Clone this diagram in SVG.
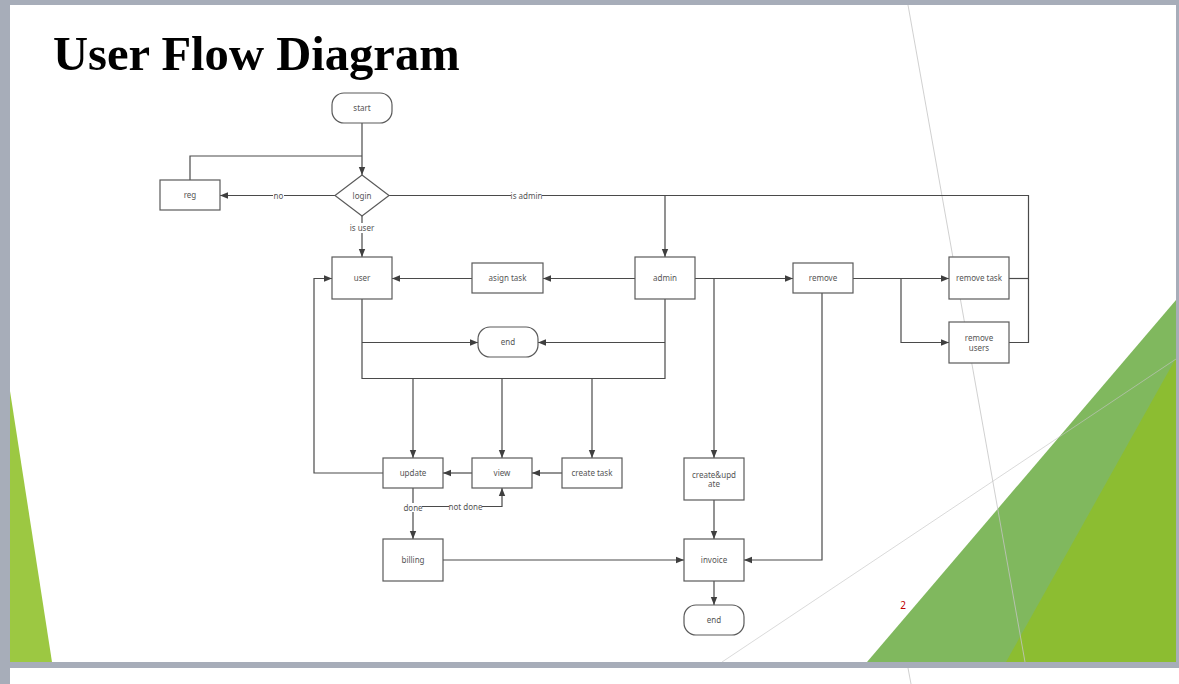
<svg xmlns="http://www.w3.org/2000/svg" width="1179" height="684" viewBox="0 0 1179 684">
<style>
.bx{fill:#fff;stroke:#5a5a5a;stroke-width:1.2}
.t{font-family:"Noto Sans","Open Sans",sans-serif;font-size:8px;fill:#555;text-anchor:middle}
.c{fill:none;stroke:#4a4a4a;stroke-width:1.2}
.ca{fill:none;stroke:#4a4a4a;stroke-width:1.2;marker-end:url(#ah)}
.lb{fill:#fff}
.thin{stroke:#c4c4c4;stroke-width:0.8;fill:none}
</style>
<defs>
<marker id="ah" markerUnits="userSpaceOnUse" markerWidth="9" markerHeight="8" refX="8" refY="4" orient="auto">
<path d="M0,0.8 L8,4 L0,7.2 Z" fill="#3f3f3f"/>
</marker>
</defs>
<rect x="0" y="0" width="1179" height="684" fill="#a7adb9"/>
<rect x="10" y="5" width="1166" height="657" fill="#fff"/>
<rect x="10" y="668" width="1169" height="16" fill="#fff"/>
<polygon points="10,391 10,662 52,662" fill="#9cc842"/>
<polygon points="867,662 1176,300 1176,662" fill="#80b85e"/>
<polygon points="1006,662 1176,358 1176,662" fill="#8cbd31"/>
<line class="thin" x1="908" y1="5" x2="1025" y2="662"/>
<line class="thin" x1="722" y1="662" x2="1176" y2="359" stroke-opacity="0.8"/>
<line class="thin" x1="908" y1="668" x2="911" y2="684"/>
<text x="53" y="70" font-family="'Liberation Serif',serif" font-weight="bold" font-size="48.6" fill="#000">User Flow Diagram</text>
<text x="903" y="609" font-family="'Noto Sans',sans-serif" font-size="10" fill="#c00000" text-anchor="middle">2</text>

<g id="connectors">
<path class="ca" d="M362 123 V175"/>
<path class="c" d="M190 180 V156 H362"/>
<path class="ca" d="M335 195.5 H220"/>
<path class="ca" d="M362 216 V257"/>
<path class="ca" d="M389 195.5 H665 V257"/>
<path class="c" d="M1009 342.5 H1028.5 V195.5 H665" stroke-width="1.6"/>
<path class="c" d="M1009 278.5 H1028.5"/>
<path class="ca" d="M635 278.5 H543"/>
<path class="ca" d="M472 278.5 H392"/>
<path class="c" d="M362 299 V378.5 H665 V299"/>
<path class="ca" d="M362 342.5 H478"/>
<path class="ca" d="M665 342.5 H538"/>
<path class="ca" d="M413 378.5 V458"/>
<path class="ca" d="M502 378.5 V458"/>
<path class="ca" d="M592 378.5 V458"/>
<path class="ca" d="M562 473 H532"/>
<path class="ca" d="M472 473 H443"/>
<path class="ca" d="M383 473 H314 V278.5 H332"/>
<path class="ca" d="M413 488 V539"/>
<path class="ca" d="M413 506.5 H502 V488"/>
<path class="ca" d="M443 560 H684"/>
<path class="ca" d="M695 278.5 H793"/>
<path class="ca" d="M714 278.5 V458"/>
<path class="ca" d="M714 500 V539"/>
<path class="ca" d="M822 293 V560 H744"/>
<path class="ca" d="M853 278.5 H949"/>
<path class="ca" d="M901 278.5 V342.5 H949"/>
<path class="ca" d="M714 581 V605"/>
<rect class="lb" x="273" y="191" width="11" height="9"/>
<text class="t" x="278.5" y="198.5">no</text>
<rect class="lb" x="348" y="223" width="28" height="10"/>
<text class="t" x="362" y="231">is user</text>
<rect class="lb" x="511" y="191" width="31" height="9"/>
<text class="t" x="526.5" y="198.5">is admin</text>
<rect class="lb" x="404" y="503" width="18" height="9"/>
<text class="t" x="413" y="510.5">done</text>
<rect class="lb" x="449" y="502" width="33" height="9"/>
<text class="t" x="465.5" y="509.5">not done</text>
</g>

<g id="start"><rect class="bx" x="332" y="93" width="60" height="30" rx="12"/><text class="t" x="362" y="111">start</text></g>
<g id="login"><polygon class="bx" points="362,175 389,195.5 362,216 335,195.5"/><text class="t" x="362" y="198.5">login</text></g>
<g id="reg"><rect class="bx" x="160" y="180" width="60" height="30"/><text class="t" x="190" y="198">reg</text></g>
<g id="user"><rect class="bx" x="332" y="257" width="60" height="42"/><text class="t" x="362" y="281">user</text></g>
<g id="asign-task"><rect class="bx" x="472" y="263" width="71" height="30"/><text class="t" x="507.5" y="281">asign task</text></g>
<g id="admin"><rect class="bx" x="635" y="257" width="60" height="42"/><text class="t" x="665" y="281">admin</text></g>
<g id="end-1"><rect class="bx" x="478" y="327" width="60" height="30" rx="12"/><text class="t" x="508" y="345">end</text></g>
<g id="remove"><rect class="bx" x="793" y="263" width="60" height="30"/><text class="t" x="823" y="281">remove</text></g>
<g id="remove-task"><rect class="bx" x="949" y="257" width="60" height="42"/><text class="t" x="979" y="281">remove task</text></g>
<g id="remove-users"><rect class="bx" x="949" y="322" width="60" height="41"/><text class="t" x="979" y="340.5">remove</text><text class="t" x="979" y="350.5">users</text></g>
<g id="update"><rect class="bx" x="383" y="458" width="60" height="30"/><text class="t" x="413" y="476">update</text></g>
<g id="view"><rect class="bx" x="472" y="458" width="60" height="30"/><text class="t" x="502" y="476">view</text></g>
<g id="create-task"><rect class="bx" x="562" y="458" width="60" height="30"/><text class="t" x="592" y="476">create task</text></g>
<g id="create-update"><rect class="bx" x="684" y="458" width="60" height="42"/><text class="t" x="714" y="477.5">create&amp;upd</text><text class="t" x="714" y="487">ate</text></g>
<g id="billing"><rect class="bx" x="383" y="539" width="60" height="42"/><text class="t" x="413" y="563">billing</text></g>
<g id="invoice"><rect class="bx" x="684" y="539" width="60" height="42"/><text class="t" x="714" y="563">invoice</text></g>
<g id="end-2"><rect class="bx" x="684" y="605" width="60" height="30" rx="12"/><text class="t" x="714" y="623">end</text></g>
</svg>
